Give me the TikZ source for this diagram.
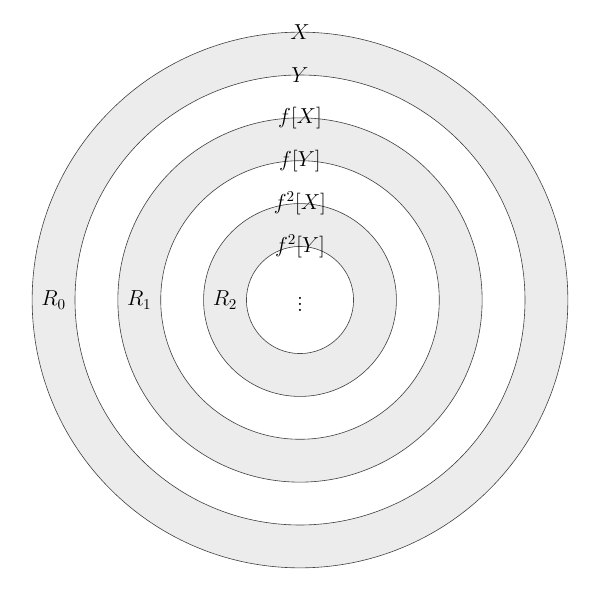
\documentclass[tikz,border=0pt]{standalone}
\begin{document}
\begin{tikzpicture}[ring/.style={draw=black!75,line width=.4pt},every node/.style={font=\Large}]
\useasboundingbox (-7,-7) rectangle (7,7);
\foreach \r/\c in {6.25/gray!15,5.25/white,4.25/gray!15,3.25/white,2.25/gray!15,1.25/white}
    \draw[ring,fill=\c](0,0) circle (\r);
\node (X) at (0,6.25){$X$};
\node (Y) at (0,5.25){$Y$};
\node (fX) at (0,4.25){$f[X]$};
\node (fY) at (0,3.25){$f[Y]$};
\node (ffX) at (0,2.25){$f^2[X]$};
\node (ffY) at (0,1.25){$f^2[Y]$};
\node (R0) at (-5.75,0){$R_0$};
\node (R1) at (-3.75,0){$R_1$};
\node (R2) at (-1.75,0){$R_2$};
\node (dots) at (0,0){$\vdots$};
\end{tikzpicture}
\end{document}
